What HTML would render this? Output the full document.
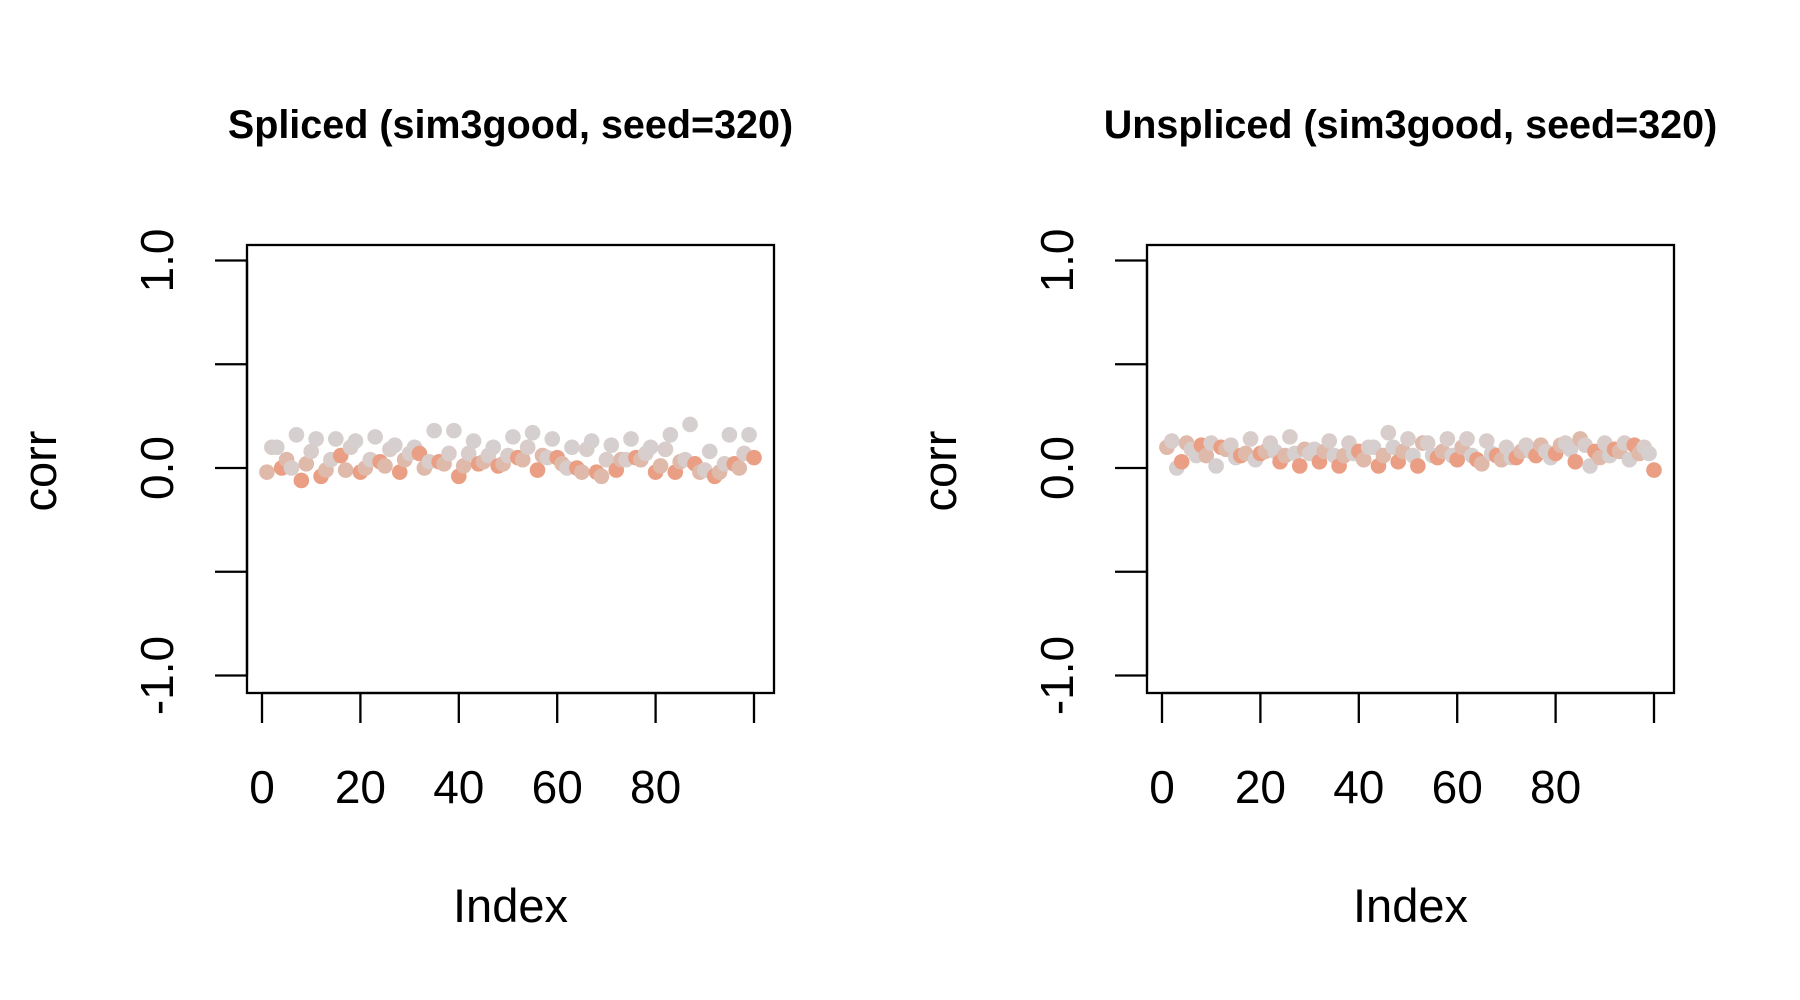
<!DOCTYPE html>
<html><head><meta charset="utf-8">
<style>
html,body{margin:0;padding:0;background:#fff;}
svg{display:block;font-family:"Liberation Sans",Arial,sans-serif;}
</style></head>
<body>
<svg id="chart" width="1800" height="1000" viewBox="0 0 1800 1000" xmlns="http://www.w3.org/2000/svg"></svg>
<script>
// ---- data ----
const panelTitles = ["Spliced (sim3good, seed=320)", "Unspliced (sim3good, seed=320)"];
const xTickValues = [0, 20, 40, 60, 80, 100];
const xTickLabels = ["0", "20", "40", "60", "80", ""];
const yTickValues = [-1, -0.5, 0, 0.5, 1];
const yTickLabels = ["-1.0", "", "0.0", "", "1.0"];
const groupColors = ["#EA9F84", "#DFB9AA", "#D8CDCB", "#D6CFCF"];
const splicedCorr = [-0.02,0.10,0.10,0.0,0.04,0.0,0.16,-0.06,0.02,0.08,0.14,-0.04,-0.01,0.04,0.14,0.06,-0.01,0.10,0.13,-0.02,
0.0,0.04,0.15,0.03,0.01,0.09,0.11,-0.02,0.04,0.07,0.10,0.07,0.0,0.03,0.18,0.03,0.02,0.07,0.18,-0.04,
0.01,0.07,0.13,0.02,0.03,0.06,0.10,0.01,0.02,0.06,0.15,0.05,0.04,0.10,0.17,-0.01,0.06,0.05,0.14,0.05,
0.02,0.0,0.10,0.0,-0.02,0.09,0.13,-0.02,-0.04,0.04,0.11,-0.01,0.04,0.04,0.14,0.05,0.04,0.07,0.10,-0.02,
0.01,0.09,0.16,-0.02,0.03,0.04,0.21,0.02,-0.02,-0.01,0.08,-0.04,-0.02,0.02,0.16,0.02,0.0,0.07,0.16,0.05];
const unsplicedCorr = [0.10,0.13,0.0,0.03,0.12,0.09,0.06,0.11,0.06,0.12,0.01,0.10,0.09,0.11,0.05,0.06,0.07,0.14,0.04,0.07,
0.08,0.12,0.08,0.03,0.06,0.15,0.07,0.01,0.09,0.07,0.09,0.03,0.08,0.13,0.06,0.01,0.06,0.12,0.07,0.08,
0.04,0.10,0.10,0.01,0.06,0.17,0.10,0.03,0.08,0.14,0.06,0.01,0.12,0.12,0.06,0.05,0.08,0.14,0.06,0.04,
0.10,0.14,0.06,0.04,0.02,0.13,0.07,0.06,0.04,0.10,0.05,0.05,0.08,0.11,0.08,0.06,0.11,0.08,0.05,0.07,
0.11,0.12,0.09,0.03,0.14,0.11,0.01,0.08,0.05,0.12,0.06,0.09,0.08,0.12,0.04,0.11,0.07,0.10,0.07,-0.01];
const panelSeries = [splicedCorr, unsplicedCorr];

// ---- layout ----
const NS = "http://www.w3.org/2000/svg";
const svg = document.getElementById("chart");
function mk(tag, attrs, parent){const e=document.createElementNS(NS,tag);for(const k in attrs)e.setAttribute(k,attrs[k]);(parent||svg).appendChild(e);return e;}

const panelOffsets = [0, 900];
panelSeries.forEach((series, p) => {
  const off = panelOffsets[p];
  const g = mk("g", {});
  
  
  const boxL = 247 + off, boxR = 774 + off, boxT = 245, boxB = 693;
  const xs = v => 262 + off + (v / 100) * (754 - 262);
  const ys = v => 468 - v * ((677 - 262) / 2);

  const t = mk("text", {x: (boxL + boxR) / 2, y: 138, "text-anchor": "middle", "font-size": 39.5, "font-weight": "bold", fill: "#000"}, g);
  t.textContent = panelTitles[p];
  
  

  // points
  const pts = mk("g", {}, g);
  
  
  series.forEach((v, i) => {
    const idx = i + 1;
    const c = mk("circle", {cx: xs(idx), cy: ys(v), r: 7.8, fill: groupColors[idx % 4]}, pts);
    
    
  });

  const box = mk("rect", {x: boxL, y: boxT, width: boxR - boxL, height: boxB - boxT, fill: "none", stroke: "#000", "stroke-width": 2.3}, g);
  
  

  // x axis
  const xa = mk("g", {}, g);
  
  
  mk("line", {x1: xs(0), x2: xs(100), y1: boxB, y2: boxB, stroke: "#000", "stroke-width": 2.3}, xa);
  xTickValues.forEach((v, i) => {
    const l = mk("line", {x1: xs(v), x2: xs(v), y1: boxB, y2: 723, stroke: "#000", "stroke-width": 2.3}, xa);
    
    
    if (xTickLabels[i]) {
      const tl = mk("text", {x: xs(v), y: 803, "text-anchor": "middle", "font-size": 46, fill: "#000"}, xa);
      tl.textContent = xTickLabels[i];
      
      
    }
  });
  const xt = mk("text", {x: (boxL + boxR) / 2, y: 922, "text-anchor": "middle", "font-size": 47, fill: "#000"}, g);
  xt.textContent = "Index";
  
  

  // y axis
  const ya = mk("g", {}, g);
  
  
  mk("line", {x1: boxL, x2: boxL, y1: ys(-1), y2: ys(1), stroke: "#000", "stroke-width": 2.3}, ya);
  yTickValues.forEach((v, i) => {
    const l = mk("line", {x1: 215 + off, x2: boxL, y1: ys(v), y2: ys(v), stroke: "#000", "stroke-width": 2.3}, ya);
    
    
    if (yTickLabels[i]) {
      const x = 173 + off, y = ys(v);
      const tl = mk("text", {x: x, y: y, "text-anchor": "middle", "font-size": 46, fill: "#000", transform: `rotate(-90 ${x} ${y})`}, ya);
      tl.textContent = yTickLabels[i];
      
      
    }
  });
  const yx = 56 + off, yy = 471;
  const yt = mk("text", {x: yx, y: yy, "text-anchor": "middle", "font-size": 47, fill: "#000", transform: `rotate(-90 ${yx} ${yy})`}, g);
  yt.textContent = "corr";
  
  
});
</script>
</body></html>
